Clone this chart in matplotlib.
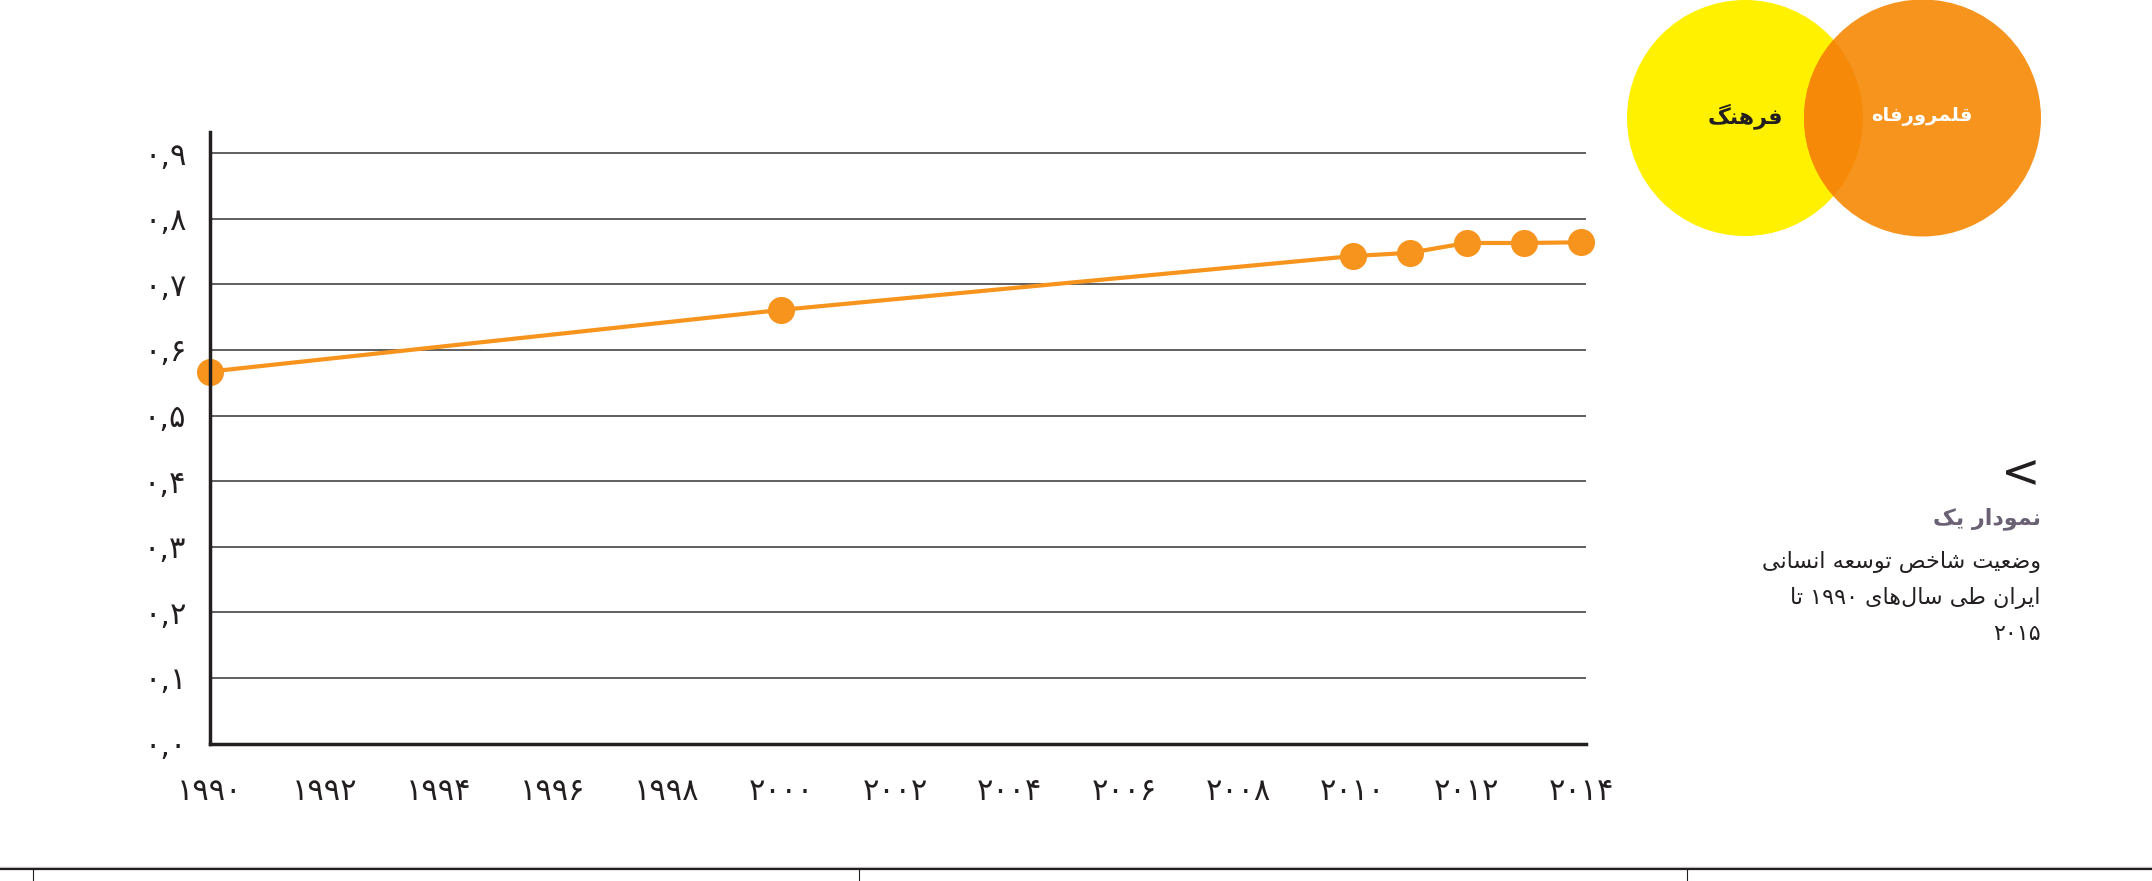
import re
import matplotlib
matplotlib.use("Agg")
import matplotlib.pyplot as plt
from matplotlib.patches import Circle

# ---------------- data ----------------
years = [1990, 2000, 2010, 2011, 2012, 2013, 2014]
hdi = [0.567, 0.661, 0.743, 0.748, 0.763, 0.763, 0.764]
xtick_years = list(range(1990, 2015, 2))
ytick_values = [0.0, 0.1, 0.2, 0.3, 0.4, 0.5, 0.6, 0.7, 0.8, 0.9]
title_bold = "نمودار یک"
subtitle_lines = ["وضعیت شاخص توسعه انسانی", "ایران طی سال‌های ۱۹۹۰ تا", "۲۰۱۵"]
circle_left_label = "فرهنگ"
circle_right_label = "قلمرورفاه"

# -------------- Persian helpers --------------
FA_DIGITS = "۰۱۲۳۴۵۶۷۸۹"


def fa_num(s):
    return "".join(FA_DIGITS[int(c)] if c.isdigit() else c for c in str(s))


FORMS = {
    "\u0627": ("\uFE8D", "\uFE8E", None, None),
    "\u0628": ("\uFE8F", "\uFE90", "\uFE91", "\uFE92"),
    "\u062A": ("\uFE95", "\uFE96", "\uFE97", "\uFE98"),
    "\u062B": ("\uFE99", "\uFE9A", "\uFE9B", "\uFE9C"),
    "\u062C": ("\uFE9D", "\uFE9E", "\uFE9F", "\uFEA0"),
    "\u062D": ("\uFEA1", "\uFEA2", "\uFEA3", "\uFEA4"),
    "\u062E": ("\uFEA5", "\uFEA6", "\uFEA7", "\uFEA8"),
    "\u062F": ("\uFEA9", "\uFEAA", None, None),
    "\u0630": ("\uFEAB", "\uFEAC", None, None),
    "\u0631": ("\uFEAD", "\uFEAE", None, None),
    "\u0632": ("\uFEAF", "\uFEB0", None, None),
    "\u0633": ("\uFEB1", "\uFEB2", "\uFEB3", "\uFEB4"),
    "\u0634": ("\uFEB5", "\uFEB6", "\uFEB7", "\uFEB8"),
    "\u0635": ("\uFEB9", "\uFEBA", "\uFEBB", "\uFEBC"),
    "\u0636": ("\uFEBD", "\uFEBE", "\uFEBF", "\uFEC0"),
    "\u0637": ("\uFEC1", "\uFEC2", "\uFEC3", "\uFEC4"),
    "\u0638": ("\uFEC5", "\uFEC6", "\uFEC7", "\uFEC8"),
    "\u0639": ("\uFEC9", "\uFECA", "\uFECB", "\uFECC"),
    "\u063A": ("\uFECD", "\uFECE", "\uFECF", "\uFED0"),
    "\u0641": ("\uFED1", "\uFED2", "\uFED3", "\uFED4"),
    "\u0642": ("\uFED5", "\uFED6", "\uFED7", "\uFED8"),
    "\u0644": ("\uFEDD", "\uFEDE", "\uFEDF", "\uFEE0"),
    "\u0645": ("\uFEE1", "\uFEE2", "\uFEE3", "\uFEE4"),
    "\u0646": ("\uFEE5", "\uFEE6", "\uFEE7", "\uFEE8"),
    "\u0647": ("\uFEE9", "\uFEEA", "\uFEEB", "\uFEEC"),
    "\u0648": ("\uFEED", "\uFEEE", None, None),
    "\u067E": ("\uFB56", "\uFB57", "\uFB58", "\uFB59"),
    "\u0686": ("\uFB7A", "\uFB7B", "\uFB7C", "\uFB7D"),
    "\u0698": ("\uFB8A", "\uFB8B", None, None),
    "\u06A9": ("\uFB8E", "\uFB8F", "\uFB90", "\uFB91"),
    "\u06AF": ("\uFB92", "\uFB93", "\uFB94", "\uFB95"),
    "\u06CC": ("\uFBFC", "\uFBFD", "\uFBFE", "\uFBFF"),
}


def shape(s):
    out = []
    for i, c in enumerate(s):
        if c not in FORMS:
            out.append(c)
            continue
        prev = s[i - 1] if i > 0 else None
        nxt = s[i + 1] if i + 1 < len(s) else None
        join_prev = prev in FORMS and FORMS[prev][2] is not None
        join_next = nxt in FORMS and FORMS[c][2] is not None
        iso, fin, ini, med = FORMS[c]
        if join_prev and join_next:
            out.append(med)
        elif join_prev:
            out.append(fin)
        elif join_next:
            out.append(ini)
        else:
            out.append(iso)
    return "".join(ch for ch in out if ch != "\u200c")


def rtl(s):
    shaped = shape(s)
    runs = re.findall(r"\d+|\D+", shaped)
    return "".join(r if r[0].isdigit() else r[::-1] for r in reversed(runs))


FONT = ["DejaVu Sans"]

# -------------- figure --------------
W, H = 2152, 881
fig = plt.figure(figsize=(W / 100, H / 100), dpi=100)

ORANGE = "#F7941D"
px_per_year = 57.125
x_left, x_right = 210, 1586
y_bottom, y_top = 743.5, 131.7
ax = fig.add_axes([x_left / W, 1 - y_bottom / H, (x_right - x_left) / W, (y_bottom - y_top) / H])
ax.set_xlim(1990, 1990 + (x_right - x_left) / px_per_year)
ax.set_ylim(0, (y_bottom - y_top) / 656.0)

ax.plot(years, hdi, color=ORANGE, lw=3.0, marker="o", ms=19.5, mec="none",
        zorder=5, clip_on=False)

ax.set_yticks(ytick_values)
ax.set_yticklabels([fa_num(f"{v:.1f}").replace(".", ",") for v in ytick_values],
                   family=FONT, fontsize=22, color="#231F20")
ax.set_xticks(xtick_years)
ax.set_xticklabels([fa_num(y) for y in xtick_years], family=FONT, fontsize=22, color="#231F20")
ax.tick_params(axis="both", length=0)
ax.tick_params(axis="y", pad=17)
ax.tick_params(axis="x", pad=24)
ax.grid(axis="y", color="#444444", lw=1.2, zorder=1)
ax.set_axisbelow(True)
for s in ("top", "right"):
    ax.spines[s].set_visible(False)
for s in ("left", "bottom"):
    ax.spines[s].set_color("#231F20")
    ax.spines[s].set_linewidth(2.5)
    ax.spines[s].set_zorder(6)

# -------------- overlay (pixel coordinates) --------------
ov = fig.add_axes([0, 0, 1, 1], zorder=-1)
ov.set_xlim(0, W)
ov.set_ylim(H, 0)
ov.axis("off")

yellow = Circle((1745, 118), 118, color="#FFF100", lw=0)
orange = Circle((1922.5, 118), 118.5, color=ORANGE, lw=0)
ov.add_patch(yellow)
ov.add_patch(orange)
overlap = Circle((1922.5, 118), 118.5, color="#F68A08", lw=0)
ov.add_patch(overlap)
overlap.set_clip_path(yellow)

ov.text(1745, 116, rtl(circle_left_label), family=FONT, fontweight="bold", fontsize=16,
        color="#231F20", ha="center", va="center")
ov.text(1922, 116, rtl(circle_right_label), family=FONT, fontweight="bold", fontsize=14,
        color="white", ha="center", va="center")

ov.text(2041, 475, "<", family=FONT, fontsize=34, color="#231F20", ha="right", va="center")
ov.text(2041, 519, rtl(title_bold), family=FONT, fontweight="bold", fontsize=16,
        color="#6A6174", ha="right", va="center")
for i, line in enumerate(subtitle_lines):
    ov.text(2041, 562 + 36 * i, rtl(line), family=FONT, fontsize=16, color="#231F20",
            ha="right", va="center")

# bottom rule
ov.plot([0, W], [867.0, 867.0], color="#D0D0D0", lw=1.0)
ov.plot([0, W], [869.0, 869.0], color="#231F20", lw=1.6)
for xv in (33, 859, 1687):
    ov.plot([xv, xv], [869, H], color="#231F20", lw=0.8)

fig.savefig("out.png", dpi=100)
